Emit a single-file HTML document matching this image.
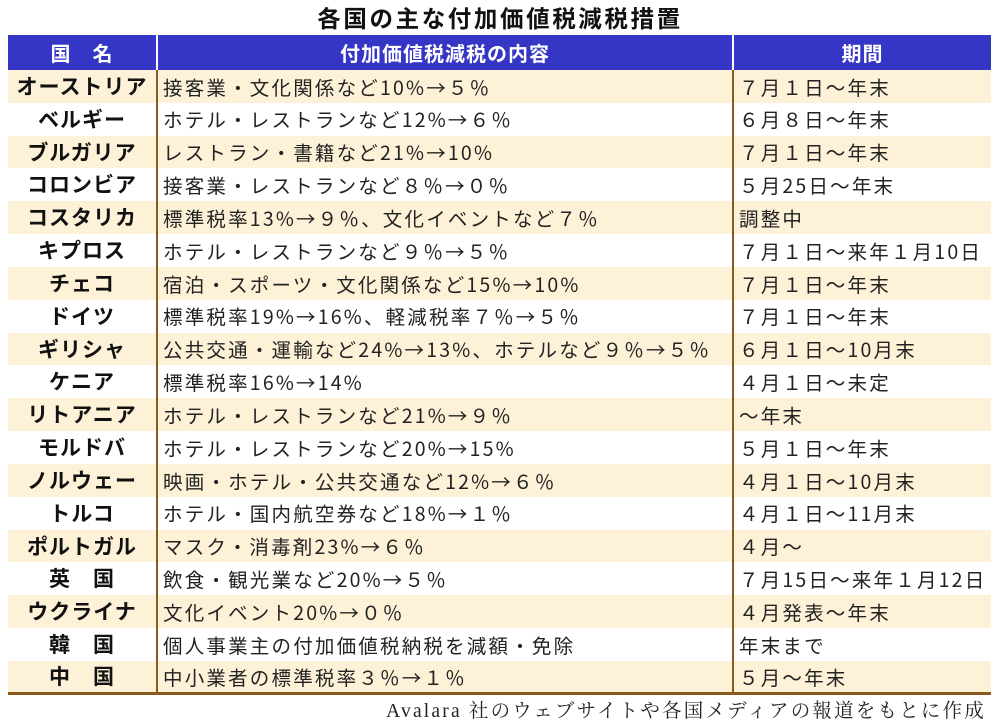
<!DOCTYPE html>
<html><head><meta charset="utf-8"><style>
body{margin:0;width:1000px;height:728px;background:#fff;font-family:"Noto Sans CJK JP","Liberation Sans",sans-serif;position:relative;overflow:hidden}
.title{position:absolute;top:0px;left:0;width:1000px;text-align:center;font-size:23.5px;line-height:34px;font-weight:bold;color:#111;letter-spacing:2.6px}
table{position:absolute;left:8px;top:35px;width:983px;border-collapse:collapse;table-layout:fixed}
th{background:#3636c6;color:#fff;height:35px;font-size:20px;font-weight:bold;padding:0;border-left:2px solid #fff;letter-spacing:1px;line-height:1}
th:first-child{border-left:none}
td{height:32.84px;padding:0 0 0 5px;font-size:19.5px;color:#222;white-space:nowrap;border-left:2px solid #8a5a1e;box-sizing:border-box;letter-spacing:2.2px;line-height:1}
td:first-child{border-left:none;text-align:center;font-weight:bold;font-size:21px;padding:0;color:#111;letter-spacing:1px}
tr:nth-child(even) td{background:#fdf2d8}
tr:nth-child(odd) td{background:#fff}
tr:last-child td{border-bottom:3px solid #8a5a1e}
.foot{position:absolute;right:14px;top:699px;font-size:19.5px;color:#222;font-family:"Liberation Serif","Noto Serif CJK SC",serif;letter-spacing:2.2px;line-height:26px}
</style></head><body>
<div class="title">各国の主な付加価値税減税措置</div>
<table>
<colgroup><col style="width:149px"><col style="width:576px"><col style="width:258px"></colgroup>
<tr><th>国　名</th><th>付加価値税減税の内容</th><th>期間</th></tr>
<tr><td>オーストリア</td><td>接客業・文化関係など10%→５％</td><td>７月１日〜年末</td></tr>
<tr><td>ベルギー</td><td>ホテル・レストランなど12%→６％</td><td>６月８日〜年末</td></tr>
<tr><td>ブルガリア</td><td>レストラン・書籍など21%→10%</td><td>７月１日〜年末</td></tr>
<tr><td>コロンビア</td><td>接客業・レストランなど８％→０％</td><td>５月25日〜年末</td></tr>
<tr><td>コスタリカ</td><td>標準税率13%→９％、文化イベントなど７％</td><td>調整中</td></tr>
<tr><td>キプロス</td><td>ホテル・レストランなど９％→５％</td><td>７月１日〜来年１月10日</td></tr>
<tr><td>チェコ</td><td>宿泊・スポーツ・文化関係など15%→10%</td><td>７月１日〜年末</td></tr>
<tr><td>ドイツ</td><td>標準税率19%→16%、軽減税率７％→５％</td><td>７月１日〜年末</td></tr>
<tr><td>ギリシャ</td><td>公共交通・運輸など24%→13%、ホテルなど９％→５％</td><td>６月１日〜10月末</td></tr>
<tr><td>ケニア</td><td>標準税率16%→14%</td><td>４月１日〜未定</td></tr>
<tr><td>リトアニア</td><td>ホテル・レストランなど21%→９％</td><td>〜年末</td></tr>
<tr><td>モルドバ</td><td>ホテル・レストランなど20%→15%</td><td>５月１日〜年末</td></tr>
<tr><td>ノルウェー</td><td>映画・ホテル・公共交通など12%→６％</td><td>４月１日〜10月末</td></tr>
<tr><td>トルコ</td><td>ホテル・国内航空券など18%→１％</td><td>４月１日〜11月末</td></tr>
<tr><td>ポルトガル</td><td>マスク・消毒剤23%→６％</td><td>４月〜</td></tr>
<tr><td>英　国</td><td>飲食・観光業など20%→５％</td><td>７月15日〜来年１月12日</td></tr>
<tr><td>ウクライナ</td><td>文化イベント20%→０％</td><td>４月発表〜年末</td></tr>
<tr><td>韓　国</td><td>個人事業主の付加価値税納税を減額・免除</td><td>年末まで</td></tr>
<tr><td>中　国</td><td>中小業者の標準税率３％→１％</td><td>５月〜年末</td></tr>
</table>
<div class="foot">Avalara 社のウェブサイトや各国メディアの報道をもとに作成</div>
</body></html>
